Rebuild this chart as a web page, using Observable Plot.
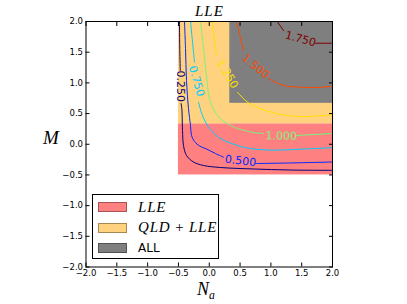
<!DOCTYPE html>
<html><head><meta charset="utf-8">
<script src="https://cdn.jsdelivr.net/npm/d3@7"></script>
<script src="https://cdn.jsdelivr.net/npm/@observablehq/plot@0.6"></script>
<style>
body{margin:0;background:#fff;}
#wrap{position:relative;width:407px;height:304px;overflow:hidden;font-family:"DejaVu Sans",sans-serif;}
.math{font-family:"Liberation Serif","DejaVu Serif",serif;font-style:italic;position:absolute;white-space:nowrap;line-height:1;}
#legend{position:absolute;left:92px;top:194px;width:127px;height:65px;border:1px solid #000;background:#fff;box-sizing:border-box;}
.sw{position:absolute;left:5px;width:29px;height:10px;box-sizing:border-box;border:1px solid rgba(0,0,0,0.35);}
.lt{position:absolute;left:45px;white-space:nowrap;line-height:1;}
</style></head><body><div id="wrap"></div>
<script>
// ticks
const xTicks = [-2, -1.5, -1, -0.5, 0, 0.5, 1, 1.5, 2];
const yTicks = [-2, -1.5, -1, -0.5, 0, 0.5, 1, 1.5, 2];
// shaded regions
const regionLabels = ["LLE", "QLD+LLE", "ALL"];
const regionColors = ["#ff8080", "#ffd27f", "#7f7f7f"];
const regionX1 = [-0.5, -0.5, 1/3];
const regionX2 = [2, 2, 2];
const regionY1 = [-0.5, 1/3, 2/3];
const regionY2 = [1/3, 2, 2];
// contour levels
const levels = [0.25, 0.5, 0.75, 1.0, 1.25, 1.5, 1.75];
const levelColors = ["#00007f", "#0028ff", "#00ccff", "#7cf27c", "#ffe000", "#ff4800", "#7f0000"];
// contour lines (null = gap under the inline label)
const c025 = [[-0.483,2.0],[-0.478,1.527],[-0.470,1.202],null,[-0.458,0.664],[-0.445,0.582],[-0.434,0.224],[-0.418,-0.020],[-0.369,-0.183],[-0.256,-0.289],[-0.093,-0.346],[0.183,-0.379],[0.718,-0.403],[1.318,-0.420],[2.0,-0.425]];
const c050 = [[-0.402,2.0],[-0.385,1.560],[-0.369,1.039],[-0.337,0.582],[-0.304,0.306],[-0.288,0.143],[-0.239,0.045],[-0.158,-0.028],[-0.045,-0.077],[0.101,-0.151],[0.231,-0.211],null,[0.751,-0.314],[1.318,-0.305],[2.0,-0.289]];
const c075 = [[-0.304,2.0],[-0.261,1.560],[-0.239,1.332],null,[-0.174,0.685],[-0.110,0.468],[0.004,0.257],[0.183,0.094],[0.458,-0.020],[0.669,-0.070],[1.0,-0.095],[1.5,-0.080],[2.0,-0.055]];
const c100 = [[-0.142,2.0],[-0.093,1.560],[-0.033,1.011],[0.004,0.741],[0.134,0.468],[0.345,0.306],[0.669,0.200],[0.880,0.175],null,[1.416,0.143],[2.0,0.175]];
const c125 = [[0.053,2.0],[0.085,1.690],[0.118,1.446],null,[0.458,0.847],[0.621,0.685],[0.832,0.578],[1.156,0.485],[1.481,0.452],[1.757,0.460],[2.0,0.485]];
const c150 = [[0.442,2.0],[0.491,1.804],[0.556,1.527],null,[0.961,1.071],[1.205,0.957],[1.481,0.930],[1.757,0.925],[2.0,0.946]];
const c175 = [[1.103,2.0],[1.205,1.853],null,[1.724,1.646],[2.0,1.646]];
const contourPaths = [c025, c050, c075, c100, c125, c150, c175];
// inline contour labels
const labelX = [-0.467, 0.507, -0.207, 1.168, 0.296, 0.751, 1.481];
const labelY = [0.946, -0.273, 1.027, 0.134, 1.148, 1.267, 1.715];
const labelRotate = [90, 7, 74, 1, 60, 40, 15];

const regions = regionLabels.map((l, i) => ({label: l, fill: regionColors[i], x1: regionX1[i], x2: regionX2[i], y1: regionY1[i], y2: regionY2[i]}));
const lineRows = [];
contourPaths.forEach((path, i) => path.forEach(p => lineRows.push({level: levels[i], color: levelColors[i], x: p ? p[0] : NaN, y: p ? p[1] : NaN})));
const labels = levels.map((lv, i) => ({text: d3.format(".3f")(lv), color: levelColors[i], x: labelX[i], y: labelY[i], rotate: labelRotate[i]}));
const fmt = d => (d < 0 ? "\u2212" : "") + Math.abs(d).toFixed(1);

const chart = Plot.plot({
  width: 407, height: 304,
  marginLeft: 85.5, marginRight: 75, marginTop: 21, marginBottom: 37.5,
  x: {domain: [-2, 2]}, y: {domain: [-2, 2]},
  style: {fontFamily: "DejaVu Sans", fontSize: "8.5px", background: "white", color: "black"},
  marks: [
    Plot.rect(regions, {x1: "x1", x2: "x2", y1: "y1", y2: "y2", fill: "fill"}),
    Plot.line(lineRows, {x: "x", y: "y", z: "level", stroke: "color", strokeWidth: 1, curve: "catmull-rom", clip: true}),
    Plot.text(labels, {x: "x", y: "y", text: "text", fill: "color", rotate: "rotate", fontSize: 11, fontFamily: "DejaVu Sans"}),
    Plot.frame({stroke: "black", strokeWidth: 1}),
    Plot.axisX({ticks: xTicks, tickSize: -4, tickPadding: 7, tickFormat: fmt, label: null}),
    Plot.axisX({anchor: "top", ticks: xTicks, tickSize: -4, tickFormat: () => "", label: null}),
    Plot.axisY({ticks: yTicks, tickSize: -4, tickPadding: 7, tickFormat: fmt, label: null}),
    Plot.axisY({anchor: "right", ticks: yTicks, tickSize: -4, tickFormat: () => "", label: null})
  ]
});
const wrap = document.getElementById("wrap");
wrap.appendChild(chart);

function addMath(html, left, top, size) {
  const d = document.createElement("div");
  d.className = "math"; d.innerHTML = html;
  d.style.left = left + "px"; d.style.top = top + "px"; d.style.fontSize = size + "px";
  wrap.appendChild(d);
  return d;
}
// title and axis labels
const t = addMath("LLE", 195, 4, 15); t.style.letterSpacing = "1px";
addMath("M", 43, 128, 19);
addMath("N<sub style='font-size:0.65em;vertical-align:-0.3em'>a</sub>", 197, 280, 18);

// legend
const lg = document.createElement("div"); lg.id = "legend"; wrap.appendChild(lg);
const rowTop = [7, 27.5, 48];
regionLabels.forEach((l, i) => {
  const s = document.createElement("div"); s.className = "sw";
  s.style.top = rowTop[i] + "px"; s.style.background = regionColors[i];
  lg.appendChild(s);
  const tx = document.createElement("div"); tx.className = "lt";
  if (l === "ALL") { tx.textContent = l; tx.style.fontFamily = "DejaVu Sans"; tx.style.fontSize = "12px"; tx.style.top = (rowTop[i] - 1) + "px"; }
  else {
    tx.textContent = l.replace("+", "\u2009+\u2009");
    tx.style.fontFamily = "'Liberation Serif',serif"; tx.style.fontStyle = "italic"; tx.style.fontSize = "15px"; tx.style.letterSpacing = "0.8px";
    tx.style.top = (rowTop[i] - 2.5) + "px";
  }
  lg.appendChild(tx);
});
</script></body></html>
